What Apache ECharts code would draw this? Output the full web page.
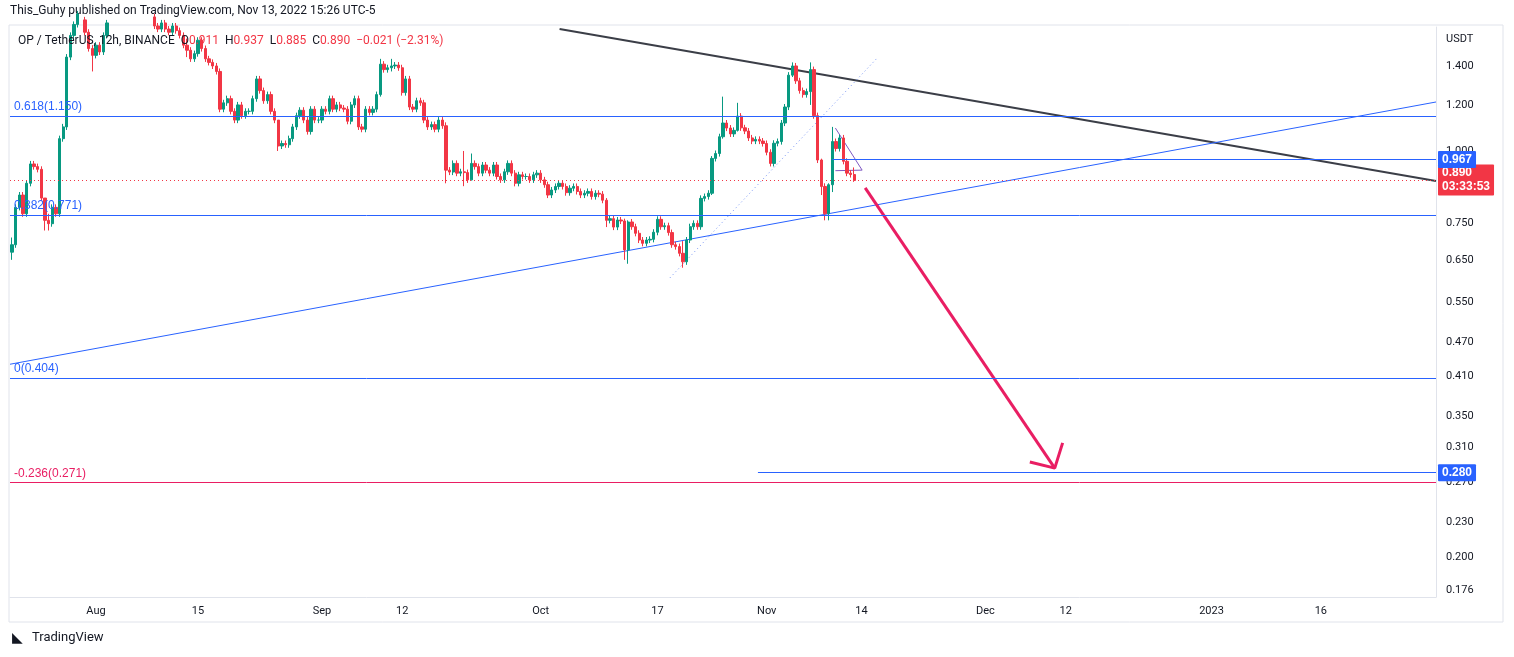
<!DOCTYPE html>
<html>
<head>
<meta charset="utf-8">
<script src="https://cdn.jsdelivr.net/npm/echarts@6/dist/echarts.min.js"></script>
<style>html,body{margin:0;padding:0;background:#fff}#showChart{width:1514px;height:657px}</style>
</head>
<body>
<div id="showChart"></div>
<script>
// 12h closes, first candle Jul 20 12:00
var closes = [
  0.69,0.80,0.84,0.78,0.88,0.95,0.94,0.93,0.83,0.76,0.75,0.80,0.78,1.05,1.10,1.45,1.58,
  1.65,1.72,1.68,1.60,1.50,1.46,1.52,1.48,1.58,1.66,1.75,1.85,1.90,1.82,1.88,1.95,1.90,1.80,1.85,1.78,1.74,1.70,1.64,1.62,
  1.66,1.62,1.60,1.64,1.61,1.58,1.52,1.49,1.44,1.47,1.55,1.50,1.44,1.42,1.40,1.37,
  1.18,1.21,1.23,1.17,1.13,1.20,1.15,1.17,1.17,1.23,1.33,1.27,1.22,1.25,1.17,1.13,1.02,1.03,1.025,1.05,1.10,1.15,1.175,1.13,
  1.08,1.18,1.13,1.13,1.18,1.17,1.23,1.18,1.20,1.185,1.18,1.125,1.20,1.23,1.10,1.09,1.18,1.165,1.18,1.25,1.41,1.38,1.39,1.40,
  1.405,1.39,1.26,1.33,1.19,1.18,1.22,1.21,1.13,1.10,1.11,1.09,1.13,1.105,
  0.927,0.920,0.952,0.916,0.921,0.918,0.892,0.952,0.940,0.916,0.946,0.927,0.916,0.946,0.904,0.892,0.921,0.952,0.916,0.880,
  0.910,0.904,0.904,0.892,0.910,0.916,0.892,0.875,0.840,0.857,0.869,0.880,0.869,0.848,0.863,0.869,0.852,0.840,0.846,0.852,
  0.835,0.846,0.843,0.823,0.760,0.765,0.740,0.761,0.758,0.676,0.755,0.741,0.722,0.703,0.694,0.703,0.705,0.725,0.763,0.741,0.744,0.724,
  0.69,0.685,0.667,0.645,0.703,0.741,0.751,0.741,0.829,0.835,0.846,0.971,0.99,1.058,1.117,1.095,1.07,1.085,1.148,1.096,
  1.082,1.053,1.04,1.047,1.04,1.03,0.995,0.952,1.031,1.038,1.117,1.19,1.35,1.40,1.32,1.27,1.25,1.265,1.38,1.15,
  0.965,0.869,0.78,0.875,1.038,1.01,1.053,0.96,0.916,0.911,0.890
];
var firstOpen = 0.67;
// candles whose wicks stand out: index -> [low, high]
var wicks = {
  0:[0.65,0.71], 9:[0.73,0.83], 10:[0.73,0.78], 22:[1.37,1.52], 48:[1.45,1.56], 73:[1.0,1.13],
  101:[1.24,1.44], 104:[1.37,1.44], 119:[0.88,1.12], 124:[0.87,1.0], 126:[0.89,0.99], 163:[0.74,0.83],
  168:[0.65,0.765], 169:[0.64,0.76], 184:[0.63,0.70], 192:[0.84,0.98], 195:[1.05,1.24], 199:[1.08,1.21],
  214:[1.34,1.42], 219:[1.2,1.42], 222:[0.84,0.97], 223:[0.76,0.88], 224:[0.76,0.88], 225:[0.85,1.10], 231:[0.885,0.937]
};
var yTicks = [1.4,1.2,1.0,0.75,0.65,0.55,0.47,0.41,0.35,0.31,0.27,0.23,0.2,0.176];
var xTicks = [[2022,7,1],[2022,7,15],[2022,8,1],[2022,8,12],[2022,9,1],[2022,9,17],[2022,10,1],[2022,10,14],[2022,11,1],[2022,11,12],[2023,0,1],[2023,0,16]];
var fibLevels = [
  {name:'0.618(1.150)', value:1.150, color:'#2962ff'},
  {name:'0.382(0.771)', value:0.771, color:'#2962ff'},
  {name:'0(0.404)', value:0.404, color:'#2962ff'},
  {name:'-0.236(0.271)', value:0.271, color:'#e91e63'}
];

var L = Math.log10;
var H12 = 12 * 3600 * 1000;
var t0 = Date.UTC(2022, 6, 20, 12);
var xMin = Date.UTC(2022, 6, 20, 5), xMax = Date.UTC(2023, 0, 31, 19);

var candles = [];
for (var i = 0; i < closes.length; i++) {
    var o = i === 0 ? firstOpen : closes[i - 1];
    if (i === 231) o = 0.911;
    var c = closes[i];
    var w = wicks[i] || [Math.min(o, c) * 0.988, Math.max(o, c) * 1.012];
    candles.push([t0 + i * H12, L(o), L(c), L(w[0]), L(w[1])]);
}

function seg(p, color, width, type) {
    return {
        type: 'line', silent: true, showSymbol: false, symbol: 'none', z: 3,
        data: p.map(function (q) { return [q[0], L(q[1])]; }),
        lineStyle: {color: color, width: width, type: type || 'solid'}
    };
}

var marks = fibLevels.map(function (f) {
    return {yAxis: L(f.value), lineStyle: {color: f.color, width: 1, type: 'solid'},
        label: {show: true, position: 'insideStartTop', formatter: f.name, color: f.color, fontSize: 12, distance: [4, 3]}};
});
var tag = function (txt, bg) {
    return {show: true, position: 'end', formatter: txt, backgroundColor: bg, color: '#fff', fontSize: 12,
        fontWeight: 'bold', padding: [2, 4, 1, 4], distance: 2, borderRadius: 1, lineHeight: 14};
};
marks.push({yAxis: L(0.890), lineStyle: {color: '#f23645', width: 1, type: [1, 3]}, label: tag('0.890\n03:33:53', '#f23645')});
marks.push([{coord: [Date.UTC(2022, 10, 10), L(0.967)], lineStyle: {color: '#2962ff', width: 1, type: 'solid'}, label: tag('0.967', '#2962ff')},
    {coord: [xMax, L(0.967)]}]);
marks.push([{coord: [Date.UTC(2022, 9, 30, 19), L(0.280)], lineStyle: {color: '#2962ff', width: 1, type: 'solid'}, label: tag('0.280', '#2962ff')},
    {coord: [xMax, L(0.280)]}]);

var MON = ['Jan','Feb','Mar','Apr','May','Jun','Jul','Aug','Sep','Oct','Nov','Dec'];
var pink = '#e91e63';

option = {
    animation: false,
    grid: {left: 10, right: 78, top: 27, bottom: 60},
    xAxis: {
        type: 'value', min: xMin, max: xMax,
        splitLine: {show: false},
        axisLine: {onZero: false, lineStyle: {color: '#e0e3eb'}},
        axisTick: {show: false},
        axisLabel: {
            customValues: xTicks.map(function (d) { return Date.UTC(d[0], d[1], d[2]); }),
            color: '#131722', fontSize: 11, margin: 9, fontFamily: 'Roboto',
            formatter: function (v) {
                var d = new Date(v);
                if (d.getUTCDate() === 1) return d.getUTCMonth() === 0 ? String(d.getUTCFullYear()) : MON[d.getUTCMonth()];
                return String(d.getUTCDate());
            }
        }
    },
    yAxis: {
        type: 'value', position: 'right', min: -0.7666, max: 0.2131,
        splitLine: {show: false},
        axisLine: {show: true, onZero: false, lineStyle: {color: '#e0e3eb'}},
        axisTick: {show: false},
        axisLabel: {
            customValues: yTicks.map(L), color: '#131722', fontSize: 11, margin: 10, fontFamily: 'Roboto',
            formatter: function (v) { return Math.pow(10, v).toFixed(3); }
        }
    },
    series: [
        {
            type: 'candlestick', clip: true, barWidth: 2.8, z: 4,
            encode: {x: 0, y: [1, 2, 3, 4]},
            data: candles,
            itemStyle: {color: '#089981', color0: '#f23645', borderColor: '#089981', borderColor0: '#f23645', borderWidth: 1},
            markLine: {silent: true, symbol: 'none', animation: false, data: marks}
        },
        seg([[Date.UTC(2022, 9, 3, 14), 1.62], [xMax, 0.888]], '#3b3e47', 2),
        seg([[xMin, 0.430], [xMax, 1.214]], '#2962ff', 1),
        seg([[Date.UTC(2022, 9, 18, 17), 0.605], [Date.UTC(2022, 10, 16, 7), 1.451]], '#6f8ef2', 1, [1, 3]),
        seg([[Date.UTC(2022, 10, 10, 10), 1.095], [Date.UTC(2022, 10, 14, 2), 0.927]], '#7e57c2', 1),
        seg([[Date.UTC(2022, 10, 10, 10), 0.925], [Date.UTC(2022, 10, 14, 2), 0.927]], '#7e57c2', 1),
        seg([[Date.UTC(2022, 10, 14, 12), 0.864], [Date.UTC(2022, 11, 10, 12), 0.285]], pink, 3),
        seg([[Date.UTC(2022, 11, 7, 2), 0.292], [Date.UTC(2022, 11, 10, 12), 0.285], [Date.UTC(2022, 11, 11, 14), 0.315]], pink, 3)
    ],
    graphic: [
        {type: 'rect', shape: {x: 9, y: 25, width: 1494, height: 597}, style: {fill: 'none', stroke: '#e0e3eb', lineWidth: 1}, silent: true},
        {type: 'text', left: 10, top: 5, style: {text: 'This_Guhy published on TradingView.com, Nov 13, 2022 15:26 UTC-5', fill: '#131722', font: '12px Roboto'}},
        {type: 'text', left: 18, top: 35, z: 10, style: {
            text: '{k|OP / TetherUS, 12h, BINANCE  O}{r|0.911}{k|  H}{r|0.937}{k|  L}{r|0.885}{k|  C}{r|0.890}{r|  \u22120.021 (\u22122.31%)}',
            rich: {k: {fill: '#131722', font: '12px Roboto'}, r: {fill: '#f23645', font: '12px Roboto'}}}},
        {type: 'text', left: 1446, top: 34, style: {text: 'USDT', fill: '#131722', font: '11px Roboto'}},
        {type: 'text', left: 12, top: 631, style: {text: '\u25E3', fill: '#131722', font: 'bold 14px DejaVu Sans'}},
        {type: 'text', left: 32, top: 631, style: {text: 'TradingView', fill: '#131722', font: '13px Roboto'}}
    ]
};

var chartOutChar = echarts.init(document.getElementById('showChart'));
chartOutChar.setOption(option);
</script>
</body>
</html>
